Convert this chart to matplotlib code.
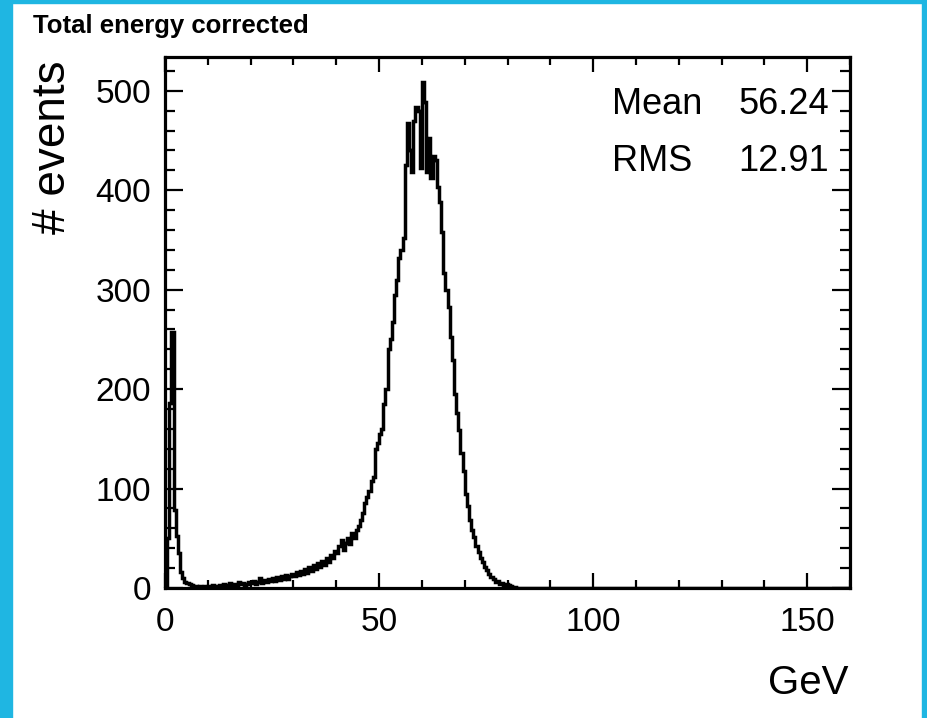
import numpy as np
import matplotlib.pyplot as plt
from matplotlib.patches import Rectangle
from matplotlib.ticker import MultipleLocator

plt.rcParams['font.family'] = ['Liberation Sans', 'DejaVu Sans']

# histogram: 0.5 GeV bins from 0 to 160 GeV
bin_width = 0.5
counts_low = [
    # 0 - 5 GeV
    0, 50, 186, 257, 78, 52, 35, 16, 10, 6,
    # 5 - 10 GeV
    5, 4, 3, 2, 2, 1, 2, 1, 2, 1,
    # 10 - 20 GeV
    2, 1, 3, 2, 2, 3, 2, 4, 3, 2, 5, 3, 4, 3, 6, 4, 5, 3, 4, 6,
    # 20 - 30 GeV
    5, 7, 4, 6, 10, 5, 8, 6, 9, 7, 10, 7, 11, 8, 12, 9, 13, 9, 12, 14,
    # 30 - 40 GeV
    12, 16, 13, 17, 14, 19, 15, 21, 17, 23, 19, 25, 21, 27, 23, 30, 26, 33, 30, 37,
    # 40 - 45 GeV
    35, 42, 48, 38, 45, 50, 44, 55, 50, 58,
    # 45 - 50 GeV
    62, 68, 75, 85, 92, 98, 108, 112, 140, 146,
    # 50 - 55 GeV
    155, 160, 185, 200, 240, 250, 268, 295, 310, 332,
    # 55 - 60 GeV
    340, 352, 425, 468, 440, 418, 470, 484, 480, 422,
    # 60 - 65 GeV
    509, 489, 418, 453, 412, 434, 430, 403, 388, 358,
    # 65 - 70 GeV
    317, 300, 283, 252, 229, 195, 176, 159, 136, 118,
    # 70 - 75 GeV
    95, 82, 68, 58, 51, 42, 36, 30, 26, 21,
    # 75 - 80 GeV
    18, 14, 11, 9, 6, 7, 4, 5, 3, 4,
    # 80 - 82 GeV
    3, 2, 1, 1,
]
n_bins = 320
counts = counts_low + [0] * (n_bins - len(counts_low))
edges = [i * bin_width for i in range(n_bins + 1)]

stat_names = ['Mean', 'RMS']
stat_values = ['56.24', '12.91']

W, H = 927, 718
fig = plt.figure(figsize=(W / 100, H / 100), dpi=100)
fig.patch.set_facecolor('white')

# cyan frame around the canvas
cyan = '#1fb6e2'
fig.patches.append(Rectangle((0, 0), 12 / W, 1, transform=fig.transFigure, color=cyan, zorder=0))
fig.patches.append(Rectangle((0, 1 - 3 / H), 1, 3 / H, transform=fig.transFigure, color=cyan, zorder=0))
fig.patches.append(Rectangle((1 - 5 / W, 0), 5 / W, 1, transform=fig.transFigure, color=cyan, zorder=0))

left, right, bottom, top = 165 / W, 850 / W, 1 - 588 / H, 1 - 57 / H
ax = fig.add_axes([left, bottom, right - left, top - bottom])

ax.stairs(counts, edges, color='black', linewidth=2.5)

ax.set_xlim(0, 160)
ax.set_ylim(0, 534)

for s in ax.spines.values():
    s.set_linewidth(2.3)

ax.xaxis.set_major_locator(MultipleLocator(50))
ax.xaxis.set_minor_locator(MultipleLocator(10))
ax.yaxis.set_major_locator(MultipleLocator(100))
ax.yaxis.set_minor_locator(MultipleLocator(20))
ax.tick_params(which='both', direction='in', top=True, right=True, width=1.6)
ax.tick_params(axis='x', which='major', length=11, labelsize=24, pad=14)
ax.tick_params(axis='x', which='minor', length=6)
ax.tick_params(axis='y', which='major', length=13, labelsize=24, pad=10)
ax.tick_params(axis='y', which='minor', length=7)

# stats text
for i, (name, val) in enumerate(zip(stat_names, stat_values)):
    y = 1 - (114 + i * 57) / H
    fig.text(612 / W, y, name, fontsize=26, ha='left', va='baseline')
    fig.text(829 / W, y, val, fontsize=26, ha='right', va='baseline')

fig.text(33 / W, 1 - 33 / H, 'Total energy corrected', fontsize=18.5,
         fontweight='bold', ha='left', va='baseline')
fig.text(848 / W, 1 - 694 / H, 'GeV', fontsize=29, ha='right', va='baseline')
fig.text(75 / W, 1 - 60 / H, '# events', fontsize=33, rotation=90,
         ha='right', va='top')

fig.savefig('out.png', dpi=100)
